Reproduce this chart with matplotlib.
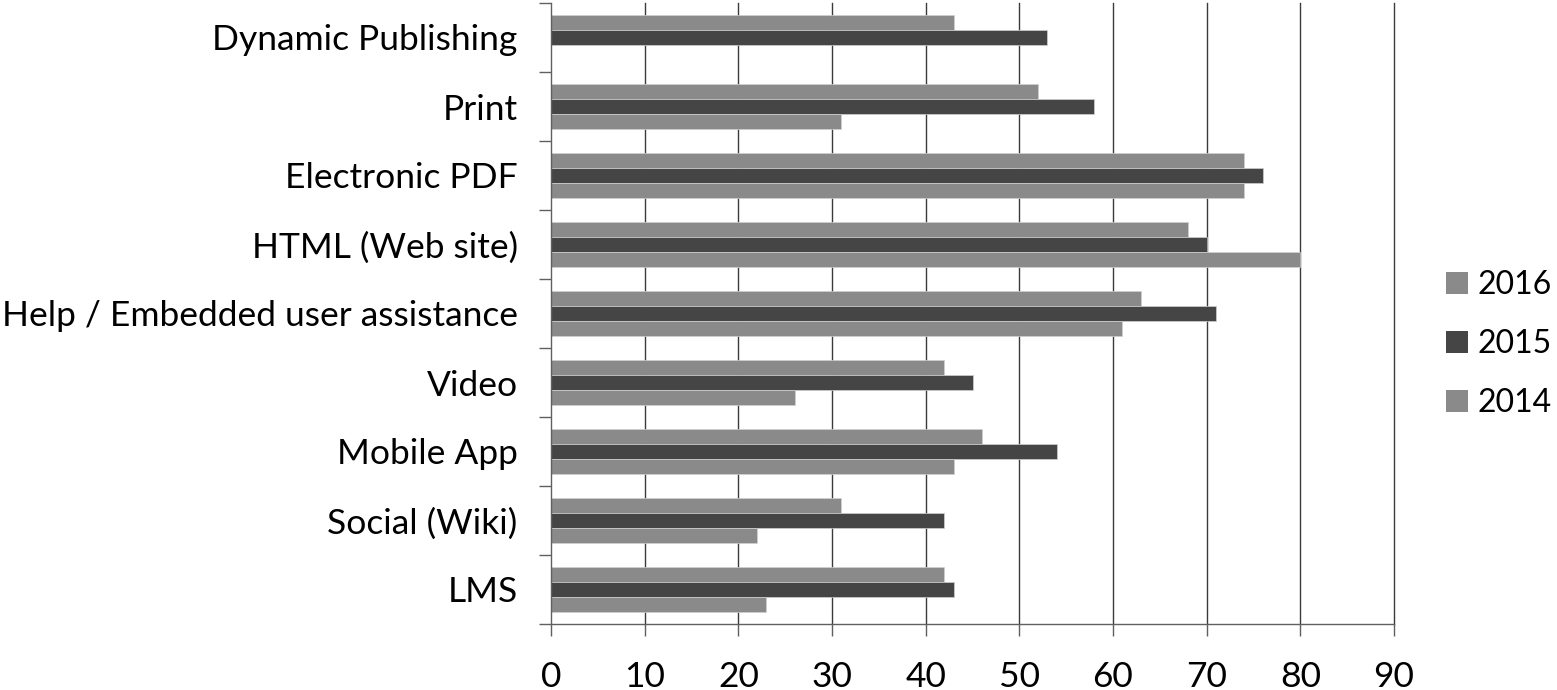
import matplotlib
matplotlib.use("Agg")
import matplotlib.pyplot as plt
from matplotlib.patches import Patch
import numpy as np

categories = ["Dynamic Publishing", "Print", "Electronic PDF", "HTML (Web site)",
              "Help / Embedded user assistance", "Video", "Mobile App",
              "Social (Wiki)", "LMS"]
series_names = ["2016", "2015", "2014"]
v2016 = [43, 52, 74, 68, 63, 42, 46, 31, 42]
v2015 = [53, 58, 76, 70, 71, 45, 54, 42, 43]
v2014 = [0, 31, 74, 80, 61, 26, 43, 22, 23]
x_ticks = [0, 10, 20, 30, 40, 50, 60, 70, 80, 90]

colors = ["#8a8a8a", "#454545", "#8a8a8a"]
FONT = "Lato"
FS = 25.5
LFS = 23

plt.rcParams['font.family'] = [FONT, 'DejaVu Sans']

fig = plt.figure(figsize=(15.57, 6.90), dpi=100)
ax = fig.add_axes([551/1557, 1 - 624/690, (1394 - 551)/1557, (624 - 3)/690])

y = np.arange(len(categories))
h = 15/69
for k, (vals, name) in enumerate(zip([v2016, v2015, v2014], series_names)):
    ax.barh(y + (k - 1)*h, vals, height=h, color=colors[k], label=name,
            edgecolor='#d0d0d0', linewidth=0.5, zorder=3)

ax.set_xlim(0, 90)
ax.set_ylim(len(categories) - 0.5, -0.5)
ax.set_xticks(x_ticks)
ax.set_xticklabels([str(t) for t in x_ticks], fontsize=FS)
ax.set_yticks(y)
ax.set_yticklabels(categories, fontsize=FS)
ax.set_yticks(np.arange(len(categories) + 1) - 0.5, minor=True)
ax.tick_params(axis='y', which='major', length=0, pad=24)
ax.tick_params(axis='y', which='minor', length=8.6, width=1, color='#606060', direction='out')
ax.tick_params(axis='x', which='major', length=8.6, width=1, color='#606060', direction='out', pad=18)
for t in x_ticks[1:]:
    ax.axvline(t, color='#3a3a3a', linewidth=1.0, zorder=1, clip_on=False)
for s in ['top', 'right']:
    ax.spines[s].set_visible(False)
for s in ['left', 'bottom']:
    ax.spines[s].set_color('#606060')
    ax.spines[s].set_linewidth(1)
ax.spines['left'].set_zorder(4)

handles = [Patch(facecolor=colors[k], edgecolor='none', label=series_names[k]) for k in range(3)]
fig.legend(handles=handles, loc='center left', bbox_to_anchor=(1446/1557, 1 - 344/690),
           frameon=False, fontsize=LFS, handlelength=0.68, handleheight=0.68,
           handletextpad=0.3, labelspacing=0.9, borderaxespad=0, borderpad=0)

fig.savefig("out.png", dpi=100)
